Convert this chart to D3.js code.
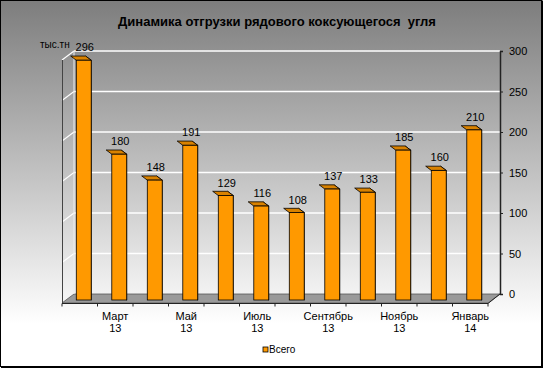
<!DOCTYPE html>
<html>
<head>
<meta charset="utf-8">
<script src="https://cdn.jsdelivr.net/npm/d3@7"></script>
<style>
  body { margin: 0; }
  svg { display: block; font-family: "Liberation Sans", Arial, sans-serif; }
</style>
</head>
<body>
<div id="chart"></div>
<script>
var categories = ["Февраль 13", "Март 13", "Апрель 13", "Май 13", "Июнь 13", "Июль 13",
                  "Август 13", "Сентябрь 13", "Октябрь 13", "Ноябрь 13", "Декабрь 13", "Январь 14"];
var values = [296, 180, 148, 191, 129, 116, 108, 137, 133, 185, 160, 210];
var yTicks = [0, 50, 100, 150, 200, 250, 300];
var title = "Динамика отгрузки рядового коксующегося  угля";
var unitLabel = "тыс.тн";
var seriesName = "Всего";

var W = 543, H = 368;
// back wall box and the 3d depth offset of the front plane
var wall = {left: 74, right: 500, top: 51, bottom: 294};
var depth = {dx: -12, dy: 9};

var svg = d3.select("#chart").append("svg")
    .attr("width", W).attr("height", H);

var defs = svg.append("defs");
var grad = defs.append("linearGradient")
    .attr("id", "bg").attr("x1", 0).attr("y1", 0).attr("x2", 0).attr("y2", 1);
grad.append("stop").attr("offset", "0%").attr("stop-color", "#7d7d7d");
grad.append("stop").attr("offset", "50%").attr("stop-color", "#c6c6c6");
grad.append("stop").attr("offset", "88%").attr("stop-color", "#ffffff");
grad.append("stop").attr("offset", "100%").attr("stop-color", "#ffffff");

svg.append("rect").attr("x", 0).attr("y", 0).attr("width", W).attr("height", H)
    .attr("fill", "url(#bg)");
svg.append("rect").attr("x", 0.5).attr("y", 0.5).attr("width", W - 2).attr("height", H - 2)
    .attr("fill", "none").attr("stroke", "#000").attr("stroke-width", 1);
svg.append("line").attr("x1", 1).attr("x2", W).attr("y1", H - 1).attr("y2", H - 1)
    .attr("stroke", "#000").attr("stroke-width", 2);
svg.append("line").attr("x1", W - 0.5).attr("x2", W - 0.5).attr("y1", 1).attr("y2", H)
    .attr("stroke", "#000").attr("stroke-width", 1);

// scales on the back wall plane
var y = d3.scaleLinear().domain([0, 300]).range([wall.bottom, wall.top]);
var x = d3.scaleBand().domain(categories).range([wall.left, wall.right])
    .paddingInner(0.58).paddingOuter(0.29);
var step = x.step();

// floor
svg.append("path")
    .attr("d", "M" + wall.left + "," + wall.bottom + "L" + wall.right + "," + wall.bottom +
          "L" + (wall.right + depth.dx) + "," + (wall.bottom + depth.dy) +
          "L" + (wall.left + depth.dx) + "," + (wall.bottom + depth.dy) + "Z")
    .attr("fill", "#9a9a9a").attr("stroke", "#555").attr("stroke-width", 0.8);

// grid lines on back wall and side wall
yTicks.filter(function(d) { return d > 0; }).forEach(function(t) {
    svg.append("line")
        .attr("x1", wall.left).attr("x2", wall.right)
        .attr("y1", y(t)).attr("y2", y(t))
        .attr("stroke", "#fff").attr("stroke-width", 1.5);
    svg.append("line")
        .attr("x1", wall.left + depth.dx).attr("x2", wall.left)
        .attr("y1", y(t) + depth.dy).attr("y2", y(t))
        .attr("stroke", "#fff").attr("stroke-width", 1.2);
});
svg.append("line")
    .attr("x1", wall.left).attr("x2", wall.left)
    .attr("y1", wall.top).attr("y2", wall.bottom)
    .attr("stroke", "#eee").attr("stroke-width", 1);
svg.append("line")
    .attr("x1", wall.left + depth.dx + 0.5).attr("x2", wall.left + depth.dx + 0.5)
    .attr("y1", wall.top + depth.dy).attr("y2", wall.bottom + depth.dy)
    .attr("stroke", "#444").attr("stroke-width", 1);

// bars
var f1 = 0.667, f2 = 0.2, bw = x.bandwidth();
var bars = svg.append("g").selectAll("g").data(values).enter().append("g");
bars.each(function(v, i) {
    var g = d3.select(this);
    var x0 = x(categories[i]) + depth.dx * f1, yb = y(0) + depth.dy * f1, yt = y(v) + depth.dy * f1;
    var sx = depth.dx * (f2 - f1), sy = depth.dy * (f2 - f1);
    // side
    g.append("path")
        .attr("d", "M" + (x0 + bw) + "," + yt + "L" + (x0 + bw - sx) + "," + (yt + sy) +
              "L" + (x0 + bw - sx) + "," + (yb + sy) + "L" + (x0 + bw) + "," + yb + "Z")
        .attr("fill", "#b36b00").attr("stroke", "#000").attr("stroke-width", 0.8);
    // top
    g.append("path")
        .attr("d", "M" + x0 + "," + yt + "L" + (x0 - sx) + "," + (yt + sy) +
              "L" + (x0 + bw - sx) + "," + (yt + sy) + "L" + (x0 + bw) + "," + yt + "Z")
        .attr("fill", "#d98200").attr("stroke", "#000").attr("stroke-width", 0.8);
    // front
    g.append("rect")
        .attr("x", x0).attr("y", yt).attr("width", bw).attr("height", yb - yt)
        .attr("fill", "#ff9900").attr("stroke", "#000").attr("stroke-width", 0.8);
    g.append("text")
        .attr("x", x0 + bw / 2 + 1).attr("y", yt - 9)
        .attr("text-anchor", "middle").attr("font-size", 11).attr("fill", "#000")
        .text(v);
});

// right value axis
var yaxis = d3.axisRight(y).tickValues(yTicks).tickSize(3).tickPadding(6);
var ya = svg.append("g")
    .attr("transform", "translate(" + wall.right + ",0)")
    .call(yaxis);
ya.select(".domain").attr("stroke", "#222").attr("stroke-width", 1.5);
ya.selectAll("line").attr("stroke", "#222");
ya.selectAll("text").attr("font-size", 11).attr("fill", "#000")
    .attr("font-family", "Liberation Sans, Arial, sans-serif");

// front category axis
var fy = wall.bottom + depth.dy + 0.5;
svg.append("line")
    .attr("x1", wall.left + depth.dx).attr("x2", wall.right + depth.dx)
    .attr("y1", fy).attr("y2", fy).attr("stroke", "#222").attr("stroke-width", 1);
svg.append("line")
    .attr("x1", wall.right + depth.dx).attr("x2", wall.right)
    .attr("y1", fy).attr("y2", wall.bottom)
    .attr("stroke", "#222").attr("stroke-width", 1);
d3.range(categories.length + 1).forEach(function(i) {
    var tx = wall.left + depth.dx + i * step;
    svg.append("line").attr("x1", tx).attr("x2", tx).attr("y1", fy).attr("y2", fy + 3)
        .attr("stroke", "#222");
});
categories.forEach(function(c, i) {
    if (i % 2 === 0) return;
    var parts = c.split(" ");
    var t = svg.append("text")
        .attr("text-anchor", "middle").attr("font-size", 11).attr("fill", "#000");
    var cx = x(c) + bw / 2 + depth.dx;
    t.append("tspan").attr("x", cx).attr("y", 320).text(parts[0]);
    t.append("tspan").attr("x", cx).attr("y", 332).text(parts[1]);
});

// title, unit label, legend
svg.append("text").attr("x", 277).attr("y", 26)
    .attr("text-anchor", "middle").attr("font-size", 13).attr("font-weight", "bold")
    .attr("fill", "#000").style("white-space", "pre").text(title);
svg.append("text").attr("x", 40).attr("y", 48)
    .attr("font-size", 10).attr("fill", "#000").text(unitLabel);
svg.append("rect").attr("x", 263).attr("y", 347).attr("width", 5).attr("height", 5)
    .attr("fill", "#ff9900").attr("stroke", "#000").attr("stroke-width", 0.8);
svg.append("text").attr("x", 269).attr("y", 353)
    .attr("font-size", 10).attr("fill", "#000").text(seriesName);
</script>
</body>
</html>
